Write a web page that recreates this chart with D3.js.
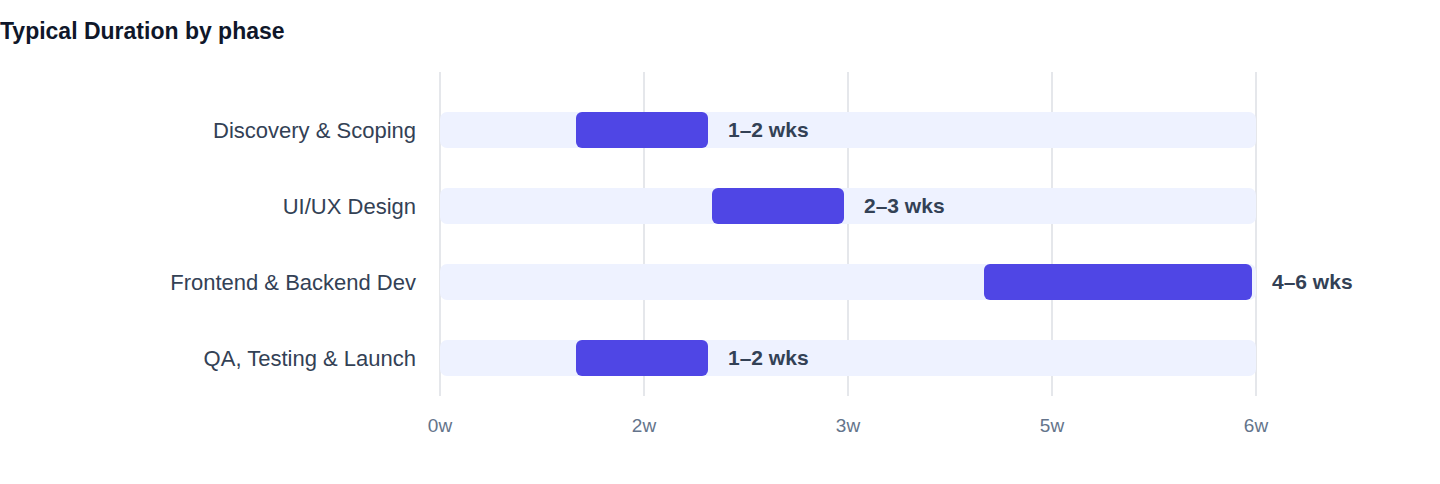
<!DOCTYPE html>
<html><head><meta charset="utf-8">
<script src="https://cdn.jsdelivr.net/npm/d3@7"></script>
<style>body{margin:0;background:#fff;font-family:"Helvetica Neue",Arial,"Liberation Sans",sans-serif;}</style>
</head><body><svg id="c" width="1440" height="484"></svg>
<script>
const phases = ["Discovery & Scoping","UI/UX Design","Frontend & Backend Dev","QA, Testing & Launch"];
const startWeeks = [1,2,4,1];
const endWeeks = [2,3,6,2];
const durationLabels = ["1–2 wks","2–3 wks","4–6 wks","1–2 wks"];
const tickValues = [0,1.5,3,4.5,6];

const svg = d3.select("#c");
const x = d3.scaleLinear().domain([0,6]).range([440,1256]);
const y = d3.scaleBand().domain(phases).range([92,396]).paddingInner(0.5263).paddingOuter(0.263);
const bh = 36;

svg.append("text").attr("x",0).attr("y",39).attr("font-size",23).attr("font-weight",700).attr("fill","#0f172a").text("Typical Duration by phase");

svg.append("g").selectAll("line").data(tickValues).join("line")
  .attr("x1",d=>x(d)).attr("x2",d=>x(d)).attr("y1",72).attr("y2",396)
  .attr("stroke","#e5e7eb").attr("stroke-width",2);

const yc = p => y(p)+y.bandwidth()/2;

svg.append("g").selectAll("rect").data(phases).join("rect")
  .attr("x",x(0)).attr("width",x(6)-x(0)).attr("y",p=>yc(p)-bh/2).attr("height",bh)
  .attr("rx",7).attr("fill","#eef2ff");

svg.append("g").selectAll("rect").data(phases).join("rect")
  .attr("x",(p,i)=>x(startWeeks[i])).attr("width",(p,i)=>x(endWeeks[i])-x(startWeeks[i])-4)
  .attr("y",p=>yc(p)-bh/2).attr("height",bh).attr("rx",6).attr("fill","#4f46e5");

svg.append("g").selectAll("text").data(phases).join("text")
  .attr("x",(p,i)=>x(endWeeks[i])+16).attr("y",p=>yc(p)).attr("dy","0.35em")
  .attr("font-size",21).attr("font-weight",700).attr("fill","#334155").text((p,i)=>durationLabels[i]);

svg.append("g").selectAll("text").data(phases).join("text")
  .attr("x",416).attr("y",p=>yc(p)).attr("dy","0.35em").attr("text-anchor","end")
  .attr("font-size",22).attr("fill","#334155").text(p=>p);

svg.append("g").selectAll("text").data(tickValues).join("text")
  .attr("x",d=>x(d)).attr("y",432).attr("text-anchor","middle")
  .attr("font-size",19).attr("fill","#64748b").text(d=>Math.round(d)+"w");
</script></body></html>
